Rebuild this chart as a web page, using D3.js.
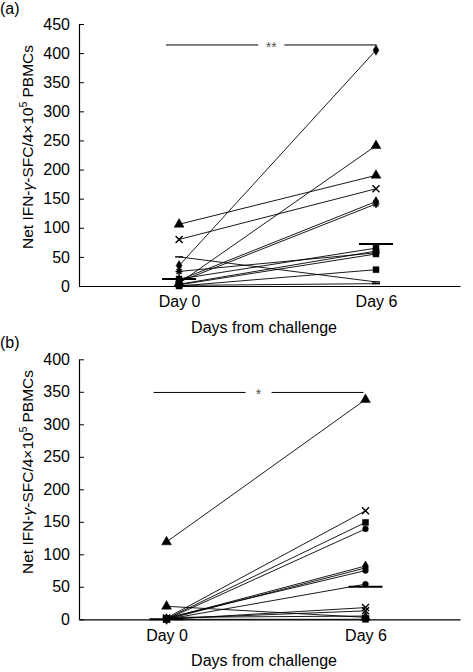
<!DOCTYPE html>
<html><head><meta charset="utf-8">
<script src="https://cdn.jsdelivr.net/npm/d3@7"></script>
<style>
html,body{margin:0;padding:0;background:#fff;}
svg text{font-family:"Liberation Sans",Arial,Helvetica,sans-serif;}
</style></head>
<body><svg id="c" width="473" height="672"></svg>
<script>
// ---------- DATA ----------
const days = [0, 6];
const yTicksA = [0,50,100,150,200,250,300,350,400,450];
const yTicksB = [0,50,100,150,200,250,300,350,400];
// Panel (a): one entry per subject
const markerA = ["triangle","times","diamond","triangle","diamond","plus","dash","plus","square","square","square","square","dash"];
const day0A   = [106, 80, 35, 5, 10, 7, 50, 25, 12, 3, 0, 2, 1];
const day6A   = [190, 167, 405, 241, 145, 141, 7, 57, 65, 60, 28, 55, 4];
const medianA = [12, 72];
const sigA    = {label:"**", value:414, from:-0.4, to:6.02};
// Panel (b)
const markerB = ["triangle","triangle","times","square","circle","diamond","diamond","circle","circle","times","times","square","dash"];
const day0B   = [119, 20, 2, 1, 0, 1, 0, 2, 0, 0, 1, 0, 3];
const day6B   = [338, 3, 167, 149, 139, 82, 79, 75, 54, 18, 13, 0, 5];
const medianB = [0, 50];
const sigB    = {label:"*", value:349, from:-0.39, to:5.94};

// ---------- DRAW ----------
const svg = d3.select("#c");
const FONT = 16;

function markerPath(type){
  switch(type){
    case "triangle": return d3.symbol(d3.symbolTriangle, 42)();
    case "diamond":  return d3.symbol(d3.symbolDiamond, 30)();
    case "square":   return d3.symbol(d3.symbolSquare, 36)();
    case "circle":   return d3.symbol(d3.symbolCircle, 26)();
    case "times":    return "M-3.5,-3.5L3.5,3.5M-3.5,3.5L3.5,-3.5";
    case "plus":     return "M-3.5,0L3.5,0M0,-4L0,4M-2.5,-2.5L2.5,2.5M-2.5,2.5L2.5,-2.5";
    case "dash":     return "M-4,0L4,0";
  }
}
const strokeOnly = t => t==="times"||t==="plus"||t==="dash";

function panel(o){
  const g = svg.append("g");
  const x = d3.scaleLinear().domain(o.xDomain).range([79, 460]);
  const y = d3.scaleLinear().domain([0, o.yMax]).range([o.y0, o.yTop]);

  // y axis
  const ya = g.append("g").attr("transform","translate(79,0)")
    .call(d3.axisLeft(y).tickValues(o.yTicks).tickSizeInner(-5).tickSizeOuter(0).tickPadding(9));
  ya.select(".domain").attr("stroke","#000").attr("stroke-width",1.2);
  ya.selectAll(".tick line").attr("stroke","#000");
  ya.selectAll("text").attr("font-size",FONT).attr("fill","#000").attr("font-family","Liberation Sans, Arial, sans-serif");

  // x axis
  const xa = g.append("g").attr("transform",`translate(0,${o.y0})`)
    .call(d3.axisBottom(x).tickValues(days).tickSize(0).tickPadding(10).tickFormat(d=>"Day "+d));
  xa.select(".domain").attr("stroke","#000").attr("stroke-width",1.2);
  xa.selectAll("text").attr("font-size",FONT).attr("fill","#000").attr("font-family","Liberation Sans, Arial, sans-serif");

  // x title
  g.append("text").attr("x",264).attr("y",o.y0+47).attr("text-anchor","middle")
    .attr("font-size",FONT).text("Days from challenge");

  // y title
  const t = g.append("text").attr("transform",`translate(33,${o.yTitle}) rotate(-90)`)
    .attr("text-anchor","middle").attr("font-size",15.5);
  t.append("tspan").text("Net IFN-");
  t.append("tspan").attr("font-style","italic").text("γ");
  t.append("tspan").text("-SFC/4×10");
  t.append("tspan").attr("font-size",10).attr("dy",-6).text("5");
  t.append("tspan").attr("dy",6).text(" PBMCs");

  // panel letter
  g.append("text").attr("x",0).attr("y",o.letterY).attr("font-size",FONT).text(o.letter);

  // lines
  o.d0.forEach((v,i)=>{
    g.append("line").attr("x1",x(0)).attr("y1",y(v)).attr("x2",x(6)).attr("y2",y(o.d6[i]))
      .attr("stroke","#000").attr("stroke-width",0.9);
  });
  // markers
  o.d0.forEach((v,i)=>{
    [[0,v],[6,o.d6[i]]].forEach(([d,val])=>{
      const m = o.mk[i];
      g.append("path").attr("d",markerPath(m))
        .attr("transform",`translate(${x(d)},${y(val)})`)
        .attr("fill",strokeOnly(m)?"none":"#000")
        .attr("stroke","#000").attr("stroke-width",strokeOnly(m)?1.4:0.5);
    });
  });
  // median bars
  o.med.forEach((v,i)=>{
    g.append("line").attr("x1",x(days[i])-17).attr("x2",x(days[i])+17)
      .attr("y1",y(v)).attr("y2",y(v)).attr("stroke","#000").attr("stroke-width",2);
  });
  // significance bar
  const s = o.sig, sx1 = x(s.from), sx2 = x(s.to), cx = (sx1+sx2)/2, sy = y(s.value);
  g.append("line").attr("x1",sx1).attr("x2",cx-13).attr("y1",sy).attr("y2",sy).attr("stroke","#000").attr("stroke-width",1);
  g.append("line").attr("x1",cx+13).attr("x2",sx2).attr("y1",sy).attr("y2",sy).attr("stroke","#000").attr("stroke-width",1);
  g.append("text").attr("x",cx).attr("y",sy+7).attr("text-anchor","middle")
    .attr("font-size",14).attr("fill","#555").attr("font-family","Liberation Serif, serif").text(s.label);
}

panel({xDomain:[-3.05, 8.56], yMax:450, y0:286, yTop:24, yTicks:yTicksA,
       d0:day0A, d6:day6A, mk:markerA, med:medianA, sig:sigA,
       yTitle:147, letter:"(a)", letterY:14});
panel({xDomain:[-2.64, 8.85], yMax:400, y0:619.3, yTop:359.3, yTicks:yTicksB,
       d0:day0B, d6:day6B, mk:markerB, med:medianB, sig:sigB,
       yTitle:472, letter:"(b)", letterY:348});
</script></body></html>
